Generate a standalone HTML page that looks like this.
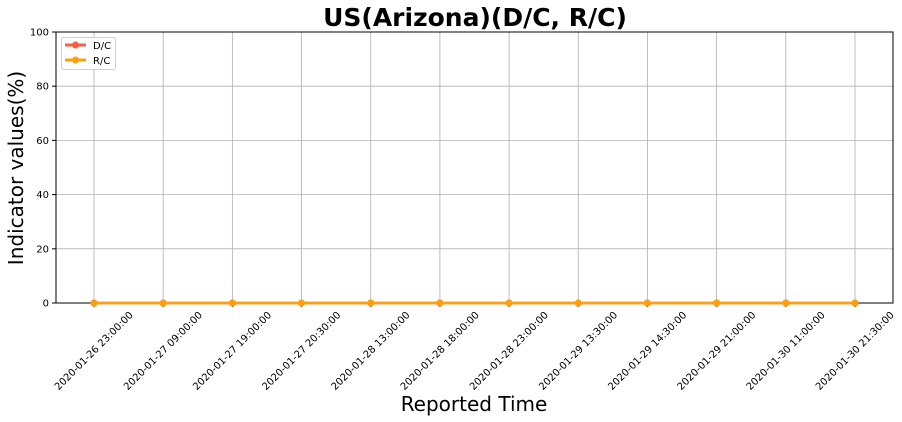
<!DOCTYPE html>
<html><head><meta charset="utf-8"><style>
body{margin:0;background:#fff;}
svg{display:block;font-family:"DejaVu Sans","Liberation Sans",sans-serif;}
</style></head><body>
<svg id="chart" width="902" height="422">
<text x="475" y="26" text-anchor="middle" font-size="25" font-weight="bold">US(Arizona)(D/C, R/C)</text>
<text x="474" y="411" text-anchor="middle" font-size="20">Reported Time</text>
<text transform="translate(23,168) rotate(-90)" text-anchor="middle" font-size="20">Indicator values(%)</text>
<g id="grid"></g><g id="axes"></g><g id="series"></g>
<g>
<rect x="61.5" y="37.5" width="54" height="32" rx="2" fill="#fff" stroke="#ccc" opacity="0.9"/>
<g><line x1="65" y1="45" x2="86" y2="45" stroke="#ff5b45" stroke-width="3"/><circle cx="75.5" cy="45" r="3.5" fill="#ff5b45"/><text x="93" y="49" font-size="10">D/C</text></g>
<g><line x1="65" y1="60" x2="86" y2="60" stroke="#ffa00a" stroke-width="3"/><circle cx="75.5" cy="60" r="3.5" fill="#ffa00a"/><text x="93" y="64" font-size="10">R/C</text></g>
</g>
</svg>
<script>
const categories=["2020-01-26 23:00:00","2020-01-27 09:00:00","2020-01-27 19:00:00","2020-01-27 20:30:00","2020-01-28 13:00:00","2020-01-28 18:00:00","2020-01-28 23:00:00","2020-01-29 13:30:00","2020-01-29 14:30:00","2020-01-29 21:00:00","2020-01-30 11:00:00","2020-01-30 21:30:00"];
const dcValues=[0,0,0,0,0,0,0,0,0,0,0,0];
const rcValues=[0,0,0,0,0,0,0,0,0,0,0,0];
const yTicks=[0,20,40,60,80,100];
const NS="http://www.w3.org/2000/svg";
const L=56,R=893,T=32,B=303;
const x=i=>94+i*(855-94)/(categories.length-1);
const y=v=>B-(v/100)*(B-T);
function mk(tag,attrs,parent){const e=document.createElementNS(NS,tag);for(const k in attrs)e.setAttribute(k,attrs[k]);parent.appendChild(e);return e;}
const grid=document.getElementById('grid'),axes=document.getElementById('axes'),series=document.getElementById('series');
categories.forEach((c,i)=>{
 const g=mk('line',{x1:x(i),x2:x(i),y1:T,y2:B,stroke:'#b0b0b0','stroke-width':0.8},grid);
 
 
 mk('line',{x1:x(i),x2:x(i),y1:B,y2:B+4,stroke:'#000'},axes);
 const t=mk('text',{x:0,y:0,'font-size':10,'text-anchor':'middle','dominant-baseline':'middle',transform:`translate(${x(i)},351) rotate(-45)`},axes);
 t.textContent=c;
 
 
});
yTicks.forEach(v=>{
 const g=mk('line',{x1:L,x2:R,y1:y(v),y2:y(v),stroke:'#b0b0b0','stroke-width':0.8},grid);
 
 
 mk('line',{x1:L-4,x2:L,y1:y(v),y2:y(v),stroke:'#000'},axes);
 const t=mk('text',{x:L-7,y:y(v)+3.5,'font-size':10,'text-anchor':'end'},axes);
 t.textContent=v;
 
 
});
const frame=mk('rect',{x:L,y:T,width:R-L,height:B-T,fill:'none',stroke:'#000','stroke-width':1},axes);


function draw(vals,color,name){
 const p=mk('polyline',{points:vals.map((v,i)=>x(i)+','+y(v)).join(' '),fill:'none',stroke:color,'stroke-width':2.5},series);
 
 
 vals.forEach((v,i)=>{const c=mk('circle',{cx:x(i),cy:y(v),r:3.5,fill:color},series);
 
 });
}
draw(dcValues,'#ff5b45','dc');
draw(rcValues,'#ffa00a','rc');
</script>
</body></html>
